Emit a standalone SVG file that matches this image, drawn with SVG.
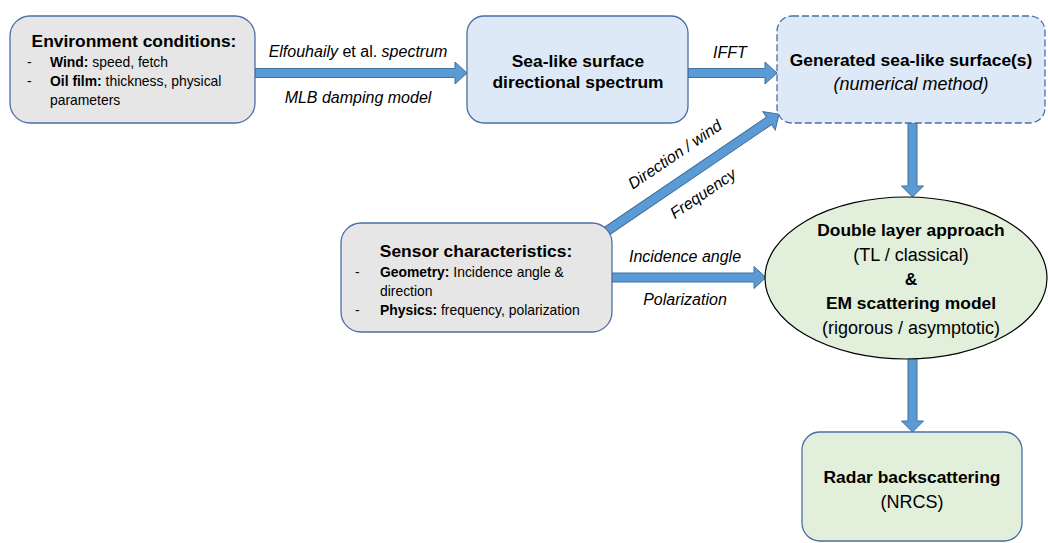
<svg xmlns="http://www.w3.org/2000/svg" width="1048" height="543" viewBox="0 0 1048 543">
<style>
text{font-family:"Liberation Sans",Arial,sans-serif;fill:#000}
.title{font-size:17.4px;font-weight:bold;text-anchor:middle}
.sub{font-size:18px;text-anchor:middle}
.body{font-size:13.9px}
.lbl{font-size:16px;font-style:italic;text-anchor:middle}
.b{font-weight:bold}
.gray{fill:#e6e6e6;stroke:#4a6fa5;stroke-width:1.3}
.blue{fill:#dde9f6;stroke:#4a6fa5;stroke-width:1.3}
.green{fill:#e2efda;stroke:#4a6fa5;stroke-width:1.3}
.arrow{fill:#5b9bd5;stroke:#41719c;stroke-width:1}
</style>
<rect width="1048" height="543" fill="#fff"/>
<g id="connectors">
<path class="arrow" d="M255,68.5 H455 V62 L467,73 L455,84 V77.5 H255 Z"/>
<path class="arrow" d="M688,68.5 H765 V62 L777,73 L765,84 V77.5 H688 Z"/>
<path class="arrow" d="M612,273 H754 V266.5 L766,277.5 L754,288.5 V282 H612 Z"/>
<path class="arrow" d="M908,123 V186 H901.5 L912.5,197 L923.5,186 H917 V123 Z"/>
<path class="arrow" d="M908,358 V421 H901.5 L912.5,432 L923.5,421 H917 V358 Z"/>
<path class="arrow" transform="translate(607,231) rotate(-34.2)" d="M0,-4.5 H196 V-11 L208,0 L196,11 V4.5 H0 Z"/>
<text class="lbl" x="358" y="57"><tspan>Elfouhaily</tspan><tspan font-style="normal"> et al. </tspan><tspan>spectrum</tspan></text>
<text class="lbl" x="358" y="103">MLB damping model</text>
<text class="lbl" x="730" y="58">IFFT</text>
<text class="lbl" x="685" y="262">Incidence angle</text>
<text class="lbl" x="685" y="305">Polarization</text>
<text class="lbl" transform="translate(678,159) rotate(-34.2)">Direction / wind</text>
<text class="lbl" transform="translate(706,198) rotate(-34.2)">Frequency</text>
</g>
<g id="env">
<rect class="gray" x="10" y="16" width="245" height="107" rx="20"/>
<text class="title" x="134" y="47">Environment conditions:</text>
<text class="body" x="27" y="67">-</text>
<text class="body" x="50" y="67"><tspan class="b">Wind:</tspan> speed, fetch</text>
<text class="body" x="27" y="86">-</text>
<text class="body" x="50" y="86"><tspan class="b">Oil film:</tspan> thickness, physical</text>
<text class="body" x="50" y="105">parameters</text>
</g>
<g id="spectrum">
<rect class="blue" x="467" y="16" width="221" height="107" rx="17"/>
<text class="title" x="578" y="67">Sea-like surface</text>
<text class="title" x="578" y="88">directional spectrum</text>
</g>
<g id="surface">
<rect class="blue" x="777" y="16" width="268" height="107" rx="15" stroke-dasharray="7 3"/>
<text class="title" x="911" y="66">Generated sea-like surface(s)</text>
<text class="sub" x="911" y="90" font-style="italic">(numerical method)</text>
</g>
<g id="sensor">
<rect class="gray" x="341" y="223" width="271" height="109" rx="20"/>
<text class="title" x="476" y="257">Sensor characteristics:</text>
<text class="body" x="355" y="277">-</text>
<text class="body" x="380" y="277"><tspan class="b">Geometry:</tspan> Incidence angle &amp;</text>
<text class="body" x="380" y="296">direction</text>
<text class="body" x="355" y="315">-</text>
<text class="body" x="380" y="315"><tspan class="b">Physics:</tspan> frequency, polarization</text>
</g>
<g id="model">
<ellipse cx="906" cy="278" rx="141" ry="81" fill="#e2efda" stroke="#000" stroke-width="1.2"/>
<text class="title" x="911" y="236">Double layer approach</text>
<text class="sub" x="911" y="261">(TL / classical)</text>
<text class="title" x="911" y="285">&amp;</text>
<text class="title" x="911" y="309">EM scattering model</text>
<text class="sub" x="911" y="334">(rigorous / asymptotic)</text>
</g>
<g id="radar">
<rect class="green" x="802" y="432" width="220" height="109" rx="18"/>
<text class="title" x="912" y="483">Radar backscattering</text>
<text class="sub" x="912" y="508">(NRCS)</text>
</g>
</svg>
